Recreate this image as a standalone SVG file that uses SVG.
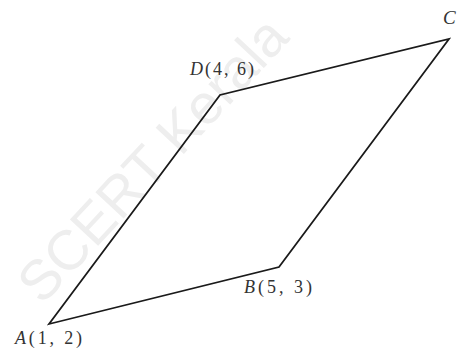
<svg xmlns="http://www.w3.org/2000/svg" width="473" height="363" viewBox="0 0 473 363">
<style>
.lbl{font-family:"Liberation Serif",serif;font-size:18px;fill:#333}
.it{font-style:italic}
.edge{stroke:#1a1a1a;stroke-width:1.8;fill:none;stroke-linejoin:miter}
.wm{font-family:"Liberation Sans",sans-serif;font-size:56px;fill:#eeeeee}
</style>
<rect width="473" height="363" fill="#fff"/>
<text class="wm" transform="translate(42,306) rotate(-47)">SCERT Kerala</text>
<g id="connectors">
<polygon class="edge" points="49,324 279,267 449,39 220,95"/>
</g>
<g id="A"><text class="lbl" x="15" y="344" textLength="67" lengthAdjust="spacing"><tspan class="it">A</tspan>(1, 2)</text></g>
<g id="B"><text class="lbl" x="244" y="293" textLength="68" lengthAdjust="spacing"><tspan class="it">B</tspan>(5, 3)</text></g>
<g id="C"><text class="lbl it" x="443" y="24" style="font-size:19px">C</text></g>
<g id="D"><text class="lbl" x="190" y="75" textLength="64" lengthAdjust="spacing"><tspan class="it">D</tspan>(4, 6)</text></g>
</svg>
